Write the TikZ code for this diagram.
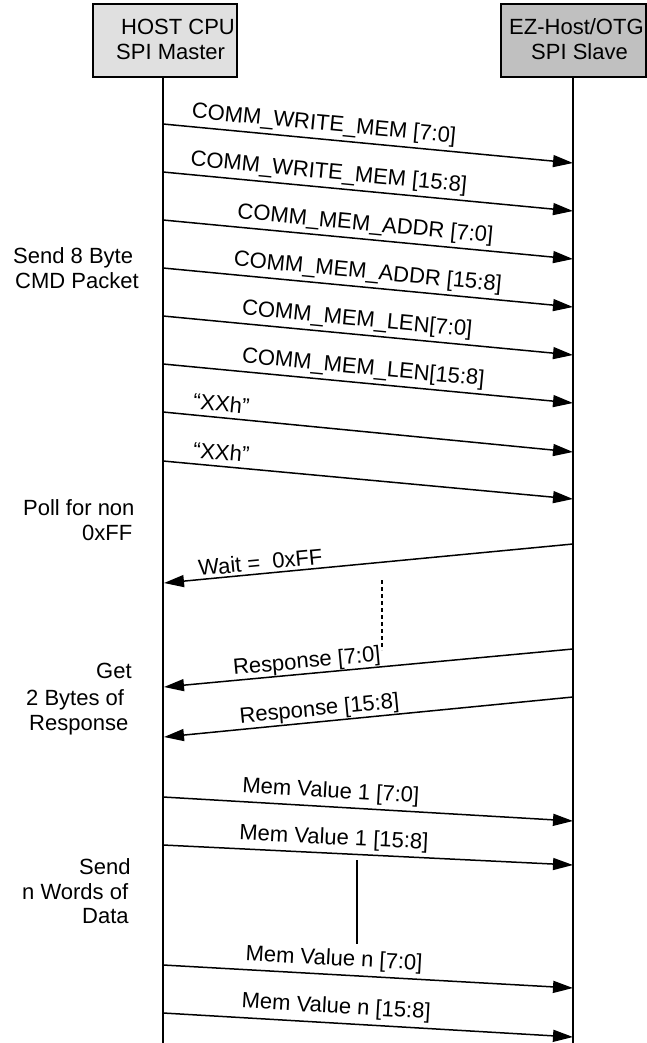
\documentclass[tikz,border=0pt]{standalone}
\usepackage{fontspec}
\setmainfont{Liberation Sans}
\usetikzlibrary{arrows.meta}
\definecolor{hostfill}{RGB}{224,224,224}
\definecolor{slavefill}{RGB}{192,192,192}
\begin{document}
\begin{tikzpicture}[x=1pt,y=-1pt,
  every node/.style={font=\fontsize{22}{25}\selectfont, inner sep=0pt},
  box/.style={draw=black, line width=2pt, minimum height=73pt},
  life/.style={line width=1.8pt},
  msg/.style={line width=1.5pt, -{Triangle[length=20pt,width=12pt]}},
  lbl/.style={sloped, above, text depth=0pt},
  txt/.style={anchor=base west},
  gap/.style={line width=1.5pt}]
\useasboundingbox (0,0) rectangle (647,1043);
\fill[white] (0,0) rectangle (647,1043);

% boxes
\node[box, fill=hostfill, minimum width=144pt] (host) at (165,40.5) {};
\node[box, fill=slavefill, minimum width=145pt] (slave) at (573.5,40.5) {};
\node[txt] (h1) at (121,35) {HOST CPU};
\node[txt] (h2) at (116,60) {SPI Master};
\node[txt] (s1) at (509,35) {EZ-Host/OTG};
\node[txt] (s2) at (531,60) {SPI Slave};

% lifelines
\coordinate (hostend) at (163,1043);
\coordinate (slaveend) at (573,1043);
\draw[life] (hostend |- host.south) -- (hostend);
\draw[life] (slaveend |- slave.south) -- (slaveend);

% left-side notes
\node[txt] (n1a) at (13,263) {Send 8 Byte};
\node[txt] (n1b) at (15,288) {CMD Packet};
\node[txt] (n2a) at (23,515) {Poll for non};
\node[txt] (n2b) at (82,540) {0xFF};
\node[txt] (n3a) at (96,678) {Get};
\node[txt] (n3b) at (26,705) {2 Bytes of};
\node[txt] (n3c) at (29,730) {Response};
\node[txt] (n4a) at (79,874) {Send};
\node[txt] (n4b) at (22,899) {n Words of};
\node[txt] (n4c) at (82,923) {Data};

% message end points
\coordinate (m1s) at (163,124);  \coordinate (m1e) at (573,163);
\coordinate (m2s) at (163,172);  \coordinate (m2e) at (573,211);
\coordinate (m3s) at (163,220);  \coordinate (m3e) at (573,259);
\coordinate (m4s) at (163,268);  \coordinate (m4e) at (573,307);
\coordinate (m5s) at (163,316);  \coordinate (m5e) at (573,355);
\coordinate (m6s) at (163,364);  \coordinate (m6e) at (573,403);
\coordinate (m7s) at (163,412);  \coordinate (m7e) at (573,452);
\coordinate (m8s) at (163,461);  \coordinate (m8e) at (573,499);
\coordinate (ws)  at (573,544);  \coordinate (we)  at (164,583);
\coordinate (r1s) at (573,649);  \coordinate (r1e) at (164,687);
\coordinate (r2s) at (573,697);  \coordinate (r2e) at (164,737);
\coordinate (v1s) at (163,797);  \coordinate (v1e) at (573,821);
\coordinate (v2s) at (163,845);  \coordinate (v2e) at (573,865);
\coordinate (v3s) at (163,965);  \coordinate (v3e) at (573,988);
\coordinate (v4s) at (163,1013); \coordinate (v4e) at (573,1037);

% messages
\draw[msg] (m1s) -- node[lbl, pos=0.389, inner sep=8pt] (l1) {COMM\_WRITE\_MEM [7:0]} (m1e);
\draw[msg] (m2s) -- node[lbl, pos=0.401, inner sep=8pt] (l2) {COMM\_WRITE\_MEM [15:8]} (m2e);
\draw[msg] (m3s) -- node[lbl, pos=0.49, inner sep=8pt] (l3) {COMM\_MEM\_ADDR [7:0]} (m3e);
\draw[msg] (m4s) -- node[lbl, pos=0.496, inner sep=8pt] (l4) {COMM\_MEM\_ADDR [15:8]} (m4e);
\draw[msg] (m5s) -- node[lbl, pos=0.47, inner sep=8pt] (l5) {COMM\_MEM\_LEN[7:0]} (m5e);
\draw[msg] (m6s) -- node[lbl, pos=0.485, inner sep=8pt] (l6) {COMM\_MEM\_LEN[15:8]} (m6e);
\draw[msg] (m7s) -- node[lbl, pos=0.139, inner sep=5.5pt] (l7) {“XXh”} (m7e);
\draw[msg] (m8s) -- node[lbl, pos=0.139, inner sep=5.5pt] (l8) {“XXh”} (m8e);
\draw[msg] (ws) -- node[lbl, pos=0.762, inner sep=3pt] (lw) {Wait =\ \ 0xFF} (we);
\draw[msg] (r1s) -- node[lbl, pos=0.648, inner sep=5pt] (lr1) {Response [7:0]} (r1e);
\draw[msg] (r2s) -- node[lbl, pos=0.617, inner sep=5.5pt] (lr2) {Response [15:8]} (r2e);
\draw[msg] (v1s) -- node[lbl, pos=0.407, inner sep=8.5pt] (lv1) {Mem Value 1 [7:0]} (v1e);
\draw[msg] (v2s) -- node[lbl, pos=0.415, inner sep=8pt] (lv2) {Mem Value 1 [15:8]} (v2e);
\draw[msg] (v3s) -- node[lbl, pos=0.415, inner sep=8.5pt] (lv3) {Mem Value n [7:0]} (v3e);
\draw[msg] (v4s) -- node[lbl, pos=0.42, inner sep=9pt] (lv4) {Mem Value n [15:8]} (v4e);

% gap markers
\coordinate (d1) at (382,580); \coordinate (d2) at (382,650);
\draw[gap, dash pattern=on 4pt off 3pt] (d1) -- (d2);
\coordinate (g1) at (357,860); \coordinate (g2) at (357,944);
\draw[gap] (g1) -- (g2);
\end{tikzpicture}
\end{document}
